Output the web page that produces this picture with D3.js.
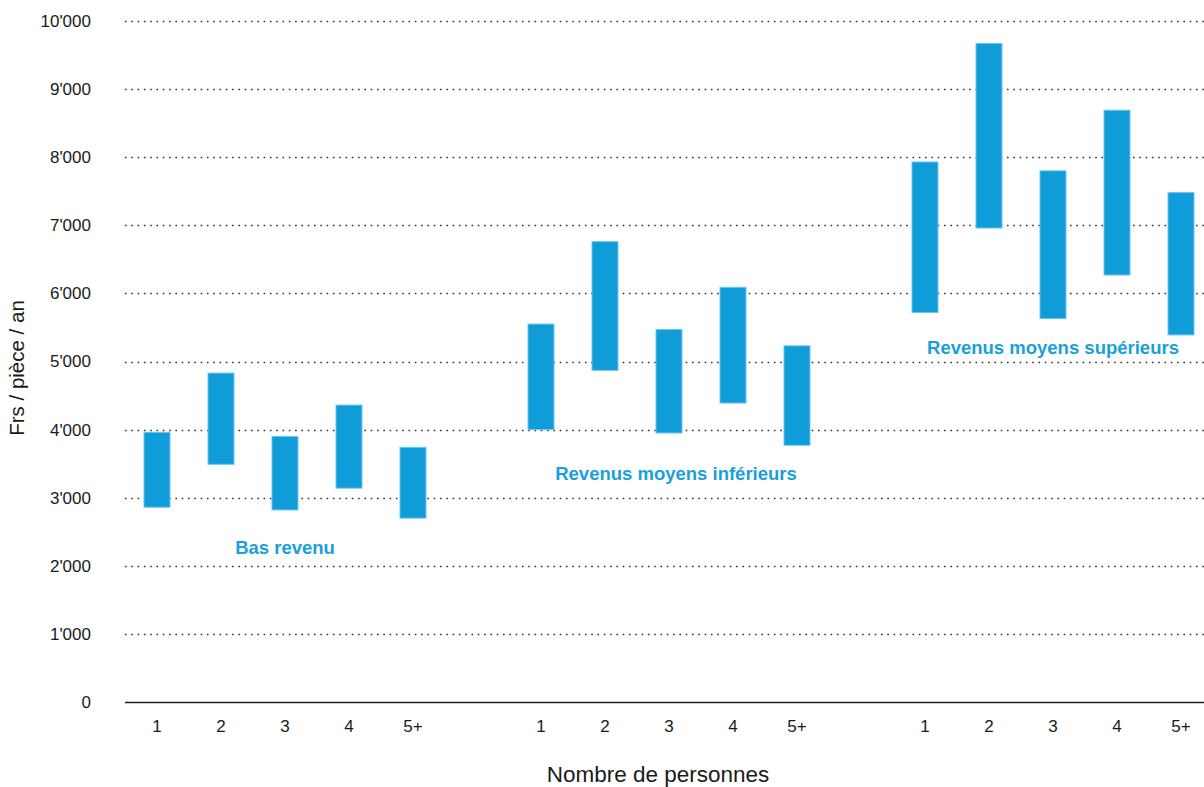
<!DOCTYPE html>
<html>
  <head>
    <meta charset="utf-8">
    <title>Frs / pièce / an</title>
    <style type="text/css">
     html, body {
       margin: 0;
       padding: 0;
       background: #fff;
     }
     svg {
       font-family: "Liberation Sans", Arial, sans-serif;
       display: block;
     }
     .grid line {
       stroke: #333;
       stroke-width: 1.3px;
       stroke-dasharray: 1.6 4.7;
     }
     .tick text {
       fill: #1a1a1a;
       font-size: 17px;
     }
     .bar {
       fill: #0f9cd8;
       stroke: #6cc6ee;
       stroke-width: 1px;
     }
     .group-label {
       fill: #1a9fda;
       font-size: 18.5px;
       font-weight: bold;
     }
    </style>
  </head>
  <body>
    <svg width="1204" height="787"></svg>
    <script src="https://cdn.jsdelivr.net/npm/d3@7"></script>
    <script>
     // income groups, household sizes, and the low/high range per bar (Frs / pièce / an)
     var groups = ["Bas revenu", "Revenus moyens inférieurs", "Revenus moyens supérieurs"];
     var persons = ["1", "2", "3", "4", "5+"];
     var lowValues = [
       [2860, 3490, 2820, 3140, 2700],
       [4000, 4870, 3950, 4390, 3770],
       [5720, 6960, 5630, 6270, 5390]
     ];
     var highValues = [
       [3960, 4830, 3900, 4360, 3740],
       [5550, 6760, 5470, 6090, 5230],
       [7930, 9670, 7800, 8690, 7480]
     ];
     // where each group's label sits on the value axis
     var labelValues = [2270, 3350, 5200];
     var yTicks = [0, 1000, 2000, 3000, 4000, 5000, 6000, 7000, 8000, 9000, 10000];

     var svg = d3.select("svg"),
         width = +svg.attr("width"),
         height = +svg.attr("height");

     var plotLeft = 125, plotRight = 1213, plotTop = 21, plotBottom = 702;
     var labelShift = [0, 7, 0];

     var x0 = d3.scaleBand()
                .domain(groups)
                .range([plotLeft, plotRight])
                .paddingInner(1 / 6)
                .paddingOuter(0);

     var x1 = d3.scaleBand()
                .domain(persons)
                .range([0, x0.bandwidth()])
                .paddingInner(0.594)
                .paddingOuter(0.297);

     var y = d3.scaleLinear()
               .domain([0, 10000])
               .range([plotBottom, plotTop]);

     function fmt(v) {
       return d3.format(",")(v).replace(/,/g, "'");
     }

     // dotted grid
     svg.append("g")
        .attr("class", "grid")
        .selectAll("line")
        .data(yTicks.filter(d => d > 0))
        .enter().append("line")
        .attr("x1", plotLeft)
        .attr("x2", width)
        .attr("y1", d => Math.round(y(d)) + 0.5)
        .attr("y2", d => Math.round(y(d)) + 0.5);

     // y axis labels
     var yAxis = d3.axisLeft(y)
                   .tickValues(yTicks)
                   .tickFormat(fmt)
                   .tickSize(0)
                   .tickPadding(0);
     svg.append("g")
        .attr("transform", "translate(91,0)")
        .call(yAxis)
        .call(g => g.select(".domain").remove());

     // baseline
     svg.append("line")
        .attr("x1", plotLeft)
        .attr("x2", width)
        .attr("y1", plotBottom + 0.5)
        .attr("y2", plotBottom + 0.5)
        .attr("stroke", "#222")
        .attr("stroke-width", 1.5);

     // bars and x labels per group
     var g = svg.append("g")
                .selectAll("g")
                .data(groups)
                .enter().append("g")
                .attr("transform", d => "translate(" + x0(d) + ",0)");

     g.selectAll("rect")
      .data((d, i) => persons.map((p, j) => ({p: p, lo: lowValues[i][j], hi: highValues[i][j]})))
      .enter().append("rect")
      .attr("class", "bar")
      .attr("x", d => x1(d.p))
      .attr("width", x1.bandwidth())
      .attr("y", d => y(d.hi))
      .attr("height", d => y(d.lo) - y(d.hi));

     g.each(function () {
       var xAxis = d3.axisBottom(x1).tickSize(0).tickPadding(0);
       d3.select(this).append("g")
         .attr("transform", "translate(0," + (plotBottom + 18) + ")")
         .call(xAxis)
         .call(a => a.select(".domain").remove());
     });

     g.append("text")
      .attr("class", "group-label")
      .attr("text-anchor", "middle")
      .attr("x", (d, i) => x0.bandwidth() / 2 + labelShift[i])
      .attr("y", (d, i) => y(labelValues[i]))
      .attr("dy", "0.35em")
      .text(d => d);

     // axis titles
     svg.append("text")
        .attr("transform", "translate(24,368) rotate(-90)")
        .attr("text-anchor", "middle")
        .attr("font-size", 20.5)
        .attr("fill", "#1a1a1a")
        .text("Frs / pièce / an");

     svg.append("text")
        .attr("x", 658)
        .attr("y", 782)
        .attr("text-anchor", "middle")
        .attr("font-size", 22.5)
        .attr("fill", "#1a1a1a")
        .text("Nombre de personnes");
    </script>
  </body>
</html>
